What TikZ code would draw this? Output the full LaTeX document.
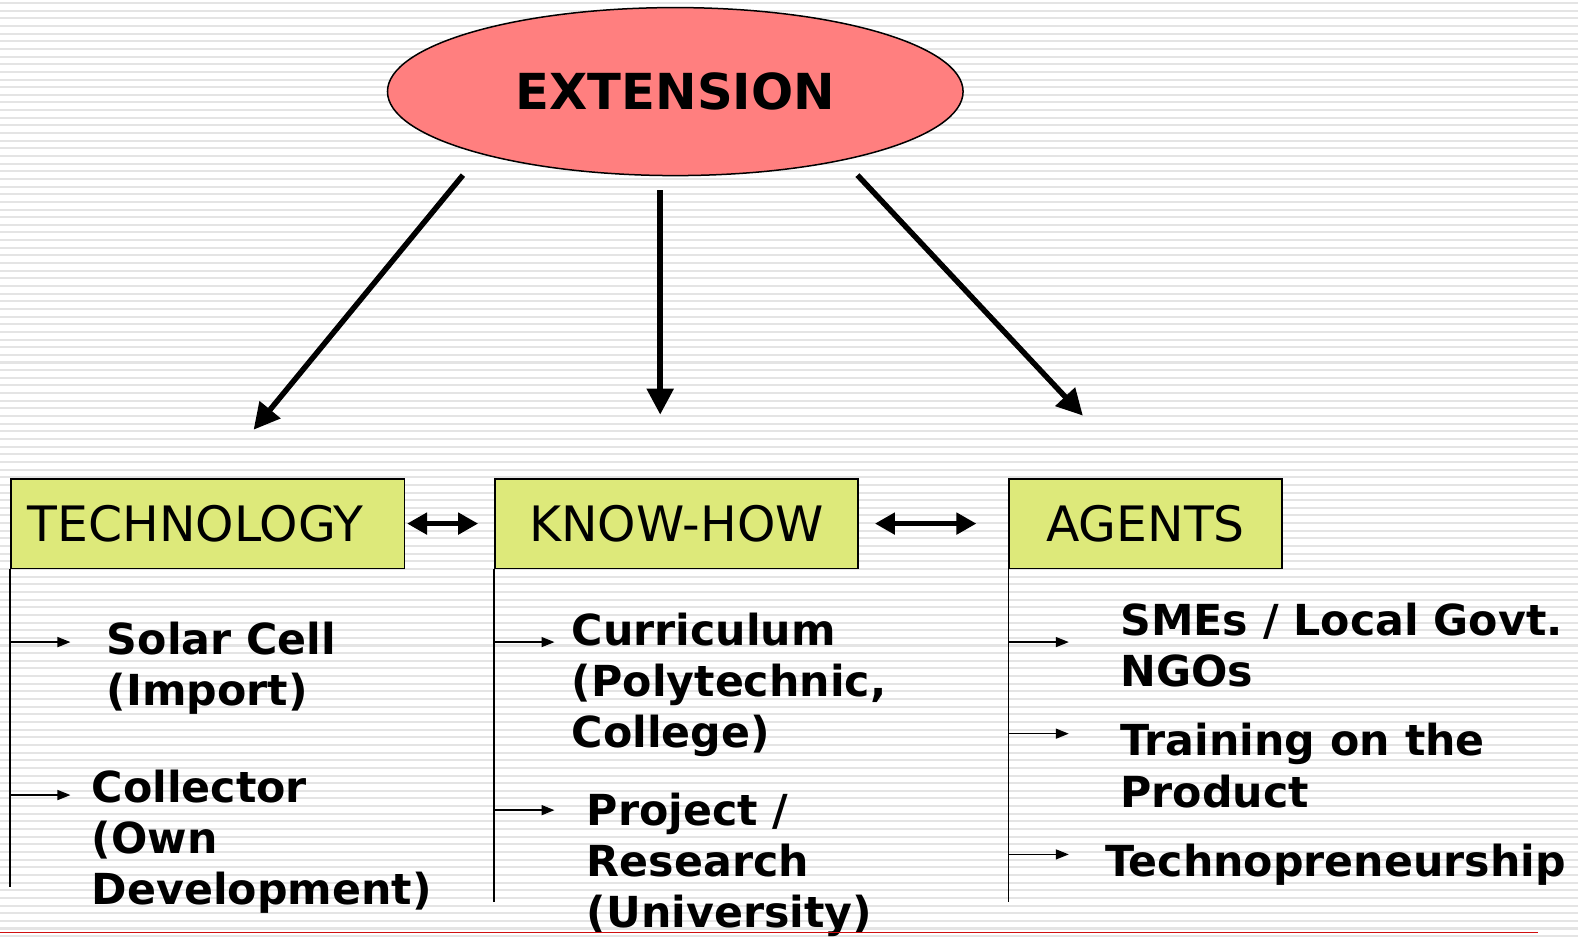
\documentclass[tikz,border=0pt]{standalone}
\usepackage{fontspec}
\setmainfont{DejaVu Sans}
\usetikzlibrary{arrows.meta, shapes.geometric}

\definecolor{stripegray}{HTML}{E4E4E4}
\definecolor{extred}{HTML}{FF7F7F}
\definecolor{boxgreen}{HTML}{DDE97A}
\definecolor{lineRed}{HTML}{D01010}

\tikzset{
  bigarrow/.style={line width=5.5bp, -{Triangle[length=26bp,width=26bp]}},
  linkarrow/.style={line width=5.5bp, {Triangle[length=20bp,width=21bp]}-{Triangle[length=20bp,width=21bp]}},
  itemarrow/.style={line width=1.5bp, -{Triangle[length=13bp,width=10bp]}},
  stem/.style={line width=1.5bp},
  headbox/.style={draw, line width=1.5bp, fill=boxgreen, anchor=north west,
    minimum height=89.6bp, inner sep=0pt, font=\fontsize{49}{58}\selectfont},
  itemtext/.style={anchor=base west, align=left, inner sep=0pt,
    font=\fontsize{42.9}{51.5}\selectfont\bfseries}
}

\begin{document}
\begin{tikzpicture}[x=1.00638bp,y=-1.00638bp]
\useasboundingbox (0,0) rectangle (1568,930.07);
\fill[white] (0,0) rectangle (1568,930.07);
\foreach \k in {0,...,122}
  \fill[stripegray] (0,{2+7.6*\k}) rectangle (1568,{4+7.6*\k}); % background stripes

% top ellipse
\node[ellipse, draw, line width=1.5bp, fill=extred, minimum width=575.6bp, minimum height=168bp,
  font=\fontsize{49.8}{58}\selectfont\bfseries] (ext) at (671,91) {EXTENSION};

% header boxes
\node[headbox, minimum width=393.5bp, text width=359.3bp, inner xsep=17.1bp, align=left] (tech) at (10,475) {TECHNOLOGY};
\node[headbox, minimum width=363.3bp] (know) at (491,475) {KNOW-HOW};
\node[headbox, minimum width=272.7bp] (agent) at (1002,475) {AGENTS};

% arrows from the ellipse
\coordinate (e1) at (460,174);
\coordinate (e2) at (656,189);
\coordinate (e3) at (852,174);
\coordinate (t1) at (252,427);
\coordinate (t2) at (656,412);
\coordinate (t3) at (1076,413);
\draw[bigarrow] (e1) -- (t1);
\draw[bigarrow] (e2) -- (t2);
\draw[bigarrow] (e3) -- (t3);

% links between boxes
\draw[linkarrow] ([xshift=2bp]tech.east) -- ([xshift=-16bp]know.west);
\draw[linkarrow] ([xshift=16bp]know.east) -- ([xshift=-32bp]agent.west);

% stems
\draw[stem] (tech.south west) -- ++(0,316);
\draw[stem] (know.south west) -- ++(0,331);
\draw[stem] (agent.south west) -- ++(0,331);

% items (base = last line)
\node[itemtext] (s1) at (106,701) {Solar Cell\\(Import)};
\node[itemtext] (s2) at (91,899) {Collector\\(Own\\Development)};
\node[itemtext] (k1) at (568,743) {Curriculum\\(Polytechnic,\\College)};
\node[itemtext] (k2) at (583,922) {Project /\\Research\\(University)};
\node[itemtext] (g1) at (1113,682) {SMEs / Local Govt.\\NGOs};
\node[itemtext] (g2) at (1113,802) {Training on the\\Product};
\node[itemtext] (g3) at (1098,871) {Technopreneurship};

\coordinate (a1) at (10,638);
\coordinate (a2) at (10,790);
\coordinate (a3) at (491,638);
\coordinate (a4) at (491,805);
\coordinate (a5) at (1002,638);
\coordinate (a6) at (1002,729);
\coordinate (a7) at (1002,849);
\foreach \a in {a1,a2,a3,a4,a5,a6,a7}
  \draw[itemarrow] (\a) -- ++(60,0);

% bottom line
\draw[lineRed, line width=1.5bp] (0,926.5) -- (1528,926.5);
\end{tikzpicture}
\end{document}
